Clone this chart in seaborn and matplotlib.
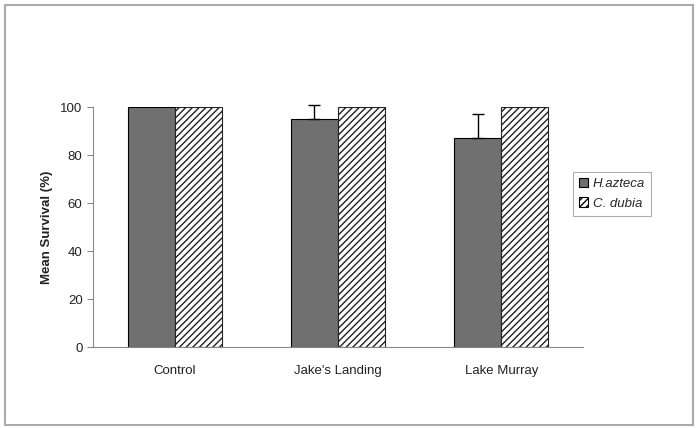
import numpy as np
import pandas as pd
import seaborn as sns
import matplotlib.pyplot as plt
from matplotlib.patches import Rectangle

sites = ['Control', "Jake's Landing", 'Lake Murray']
species = ['H.azteca', 'C. dubia']
azteca_mean = [100, 95, 87.2]
azteca_err = [0, 5.7, 10]
dubia_mean = [100, 100, 100]
dubia_err = [0, 0, 0]

df = pd.DataFrame({
    'site': sites * 2,
    'species': [species[0]] * 3 + [species[1]] * 3,
    'survival': azteca_mean + dubia_mean,
})

sns.set_style('white')
plt.rcParams['font.family'] = ['Liberation Sans', 'DejaVu Sans']
fs = 9.5

fig = plt.figure(figsize=(6.96, 4.28), dpi=100)
ax = fig.add_axes([93 / 696, 1 - 347 / 428, 490 / 696, 240 / 428])

sns.barplot(data=df, x='site', y='survival', hue='species', hue_order=species,
            palette=['#707070', 'white'], width=0.577, errorbar=None,
            edgecolor='black', linewidth=0.8, ax=ax)

for bar in ax.containers[1]:
    bar.set_hatch('/////')
    bar.set_edgecolor('#222222')

# error bars, upward only
for bar, err in zip(ax.containers[0], azteca_err):
    if err > 0:
        xc = bar.get_x() + bar.get_width() / 2
        ax.errorbar(xc, bar.get_height(), yerr=[[0], [err]], fmt='none',
                    ecolor='black', elinewidth=1, capsize=4, capthick=1, clip_on=False)

ax.set_ylim(0, 100)
ax.set_xlim(-0.5, 2.5)
ax.set_yticks([0, 20, 40, 60, 80, 100])
ax.set_xticks([0, 1, 2])
ax.set_xticks([-0.5, 0.5, 1.5, 2.5], minor=True)
ax.tick_params(axis='x', which='major', length=0, labelsize=fs, pad=13, colors='#222222')
ax.tick_params(axis='x', which='minor', length=4, direction='inout', color='#888888', width=0.8)
ax.tick_params(axis='y', length=4, direction='out', color='#888888', width=0.8,
               labelsize=fs, colors='#222222', left=True)
ax.set_xlabel('')
ax.set_ylabel('Mean Survival (%)', fontsize=fs, fontweight='bold', labelpad=5, color='#222222')

for side in ['top', 'right']:
    ax.spines[side].set_visible(False)
for side in ['left', 'bottom']:
    ax.spines[side].set_color('#888888')
    ax.spines[side].set_linewidth(0.8)

leg = ax.legend(loc='upper left', bbox_to_anchor=(566 / 696, 1 - 165 / 428),
                bbox_transform=fig.transFigure, frameon=True, fancybox=False,
                handlelength=0.75, handleheight=0.75, handletextpad=0.35,
                borderpad=0.45, labelspacing=0.55, prop={'size': fs, 'style': 'italic'})
leg.get_frame().set_edgecolor('#999999')
leg.get_frame().set_linewidth(0.8)
leg.set_title(None)
for h in leg.legend_handles:
    h.set_edgecolor('black')
leg.legend_handles[1].set_hatch('/////')

fig.patches.append(Rectangle((5 / 696, 3 / 428), 688 / 696, 420 / 428,
                             transform=fig.transFigure, fill=False,
                             edgecolor='#aaaaaa', linewidth=1.5))

fig.savefig('out.png', dpi=100)
